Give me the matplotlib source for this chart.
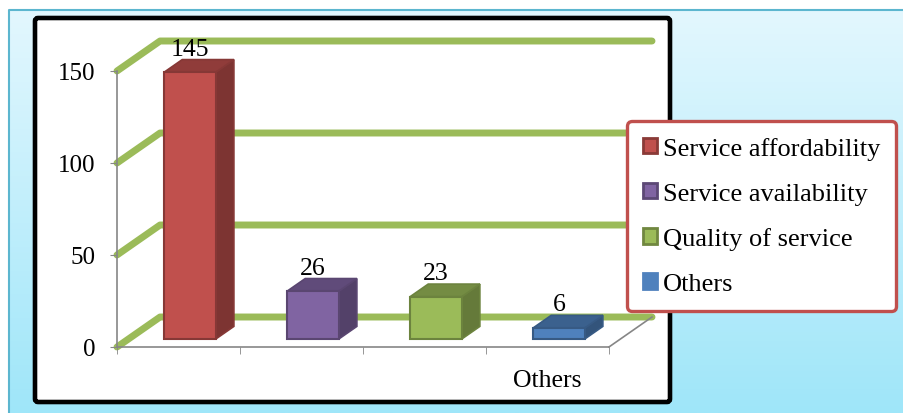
import matplotlib
matplotlib.use("Agg")
import matplotlib.pyplot as plt
import numpy as np
from matplotlib import patches
from matplotlib.colors import LinearSegmentedColormap, to_rgb

plt.rcParams["font.family"] = ["Liberation Serif", "DejaVu Serif"]

categories = ["Service affordability", "Service availability", "Quality of service", "Others"]
values = [145, 26, 23, 6]
bar_colors = ["#c0504d", "#8064a2", "#9bbb59", "#4f81bd"]
xtick_labels = ["", "", "", "Others"]
yticks = [0, 50, 100, 150]


def shade(c, k):
    r, g, b = to_rgb(c)
    return (r * k, g * k, b * k)


W, H = 904, 414
fig = plt.figure(figsize=(W / 100, H / 100), dpi=100)

# background panel + black frame
bg = fig.add_axes([0, 0, 1, 1], zorder=0)
bg.set_xlim(0, W)
bg.set_ylim(H, 0)
bg.axis("off")
grad = np.linspace(0, 1, 256)[:, None]
cmap = LinearSegmentedColormap.from_list("bg", ["#e3f7fe", "#9fe6f9"])
bg.imshow(grad, cmap=cmap, extent=(9, W, H, 11), aspect="auto", interpolation="bilinear")
bg.plot([9, 9, W], [H, 11, 11], color="#5cb6cf", lw=1.5)
bg.add_patch(patches.FancyBboxPatch((35, 19), 635, 384, boxstyle="round,pad=0,rounding_size=3",
                                    facecolor="white", edgecolor="black", lw=3.3))

# main chart
n = len(values)
dx, dy = 0.35, 16.3          # depth of the 3d box in data units
f0, bd, bw = 0.267, 0.42, 0.42  # bar front depth, bar depth, bar width

ax = fig.add_axes([117 / W, (H - 348) / H, 535 / W, 306 / H], zorder=1)
ax.patch.set_alpha(0)
ax.set_xlim(0, n + dx)
ax.set_ylim(0, max(yticks) + dy)

grey = "#868686"
for s in ["top", "right"]:
    ax.spines[s].set_visible(False)
ax.spines["left"].set_bounds(0, max(yticks))
ax.spines["bottom"].set_bounds(0, n)
for s in ["left", "bottom"]:
    ax.spines[s].set_color(grey)
    ax.spines[s].set_linewidth(1.2)
ax.plot([n, n + dx], [0, dy], color=grey, lw=1.2, clip_on=False)

for v in yticks:
    ax.plot([0, dx, n + dx], [v, v + dy, v + dy], color="#9bbb59", lw=5,
            solid_capstyle="round", solid_joinstyle="round", zorder=1, clip_on=False)

for i, (v, c) in enumerate(zip(values, bar_colors)):
    x0 = i + 0.5 - bw / 2 + f0 * dx
    y0 = f0 * dy
    x1 = x0 + bw
    ox, oy = bd * dx, bd * dy
    edge = shade(c, 0.7)
    front = patches.Rectangle((x0, y0), bw, v, facecolor=c, edgecolor=edge, lw=1.5, zorder=3)
    top = patches.Polygon([(x0, y0 + v), (x1, y0 + v), (x1 + ox, y0 + v + oy), (x0 + ox, y0 + v + oy)],
                          facecolor=shade(c, 0.75), edgecolor=edge, lw=1.2, zorder=3)
    side = patches.Polygon([(x1, y0), (x1 + ox, y0 + oy), (x1 + ox, y0 + v + oy), (x1, y0 + v)],
                           facecolor=shade(c, 0.65), edgecolor=edge, lw=1.2, zorder=3)
    for p in (side, top, front):
        ax.add_patch(p)
    ax.annotate(str(v), (x0 + bw / 2, y0 + v + oy), xytext=(0, 0), textcoords="offset points",
                ha="center", va="bottom", fontsize=18.5, zorder=5)

ax.set_yticks(yticks)
ax.tick_params(axis="y", length=5, color=grey, pad=10.5, labelsize=18)
ax.set_xticks(np.arange(n) + 0.5, xtick_labels)
ax.tick_params(axis="x", which="major", length=0, pad=16, labelsize=18.5)
ax.set_xticks(np.arange(n + 1), minor=True)
ax.tick_params(axis="x", which="minor", length=5, color=grey)

handles = []
for i, c in enumerate(bar_colors):
    ec = shade(c, 0.72) if i < n - 1 else c
    handles.append(patches.Patch(facecolor=c, edgecolor=ec, lw=2, label=categories[i]))
leg = ax.legend(handles=handles, loc="upper left", bbox_to_anchor=(627 / W, 1 - 122 / H),
                bbox_transform=fig.transFigure, borderaxespad=0, fontsize=19,
                handlelength=0.55, handleheight=0.55, handletextpad=0.2,
                labelspacing=0.86, borderpad=0.6, fancybox=True, framealpha=1)
frame = leg.get_frame()
frame.set_edgecolor("#c0504d")
frame.set_linewidth(2.4)
frame.set_boxstyle("round", pad=0, rounding_size=0.2)

fig.savefig("out.png", dpi=100)
